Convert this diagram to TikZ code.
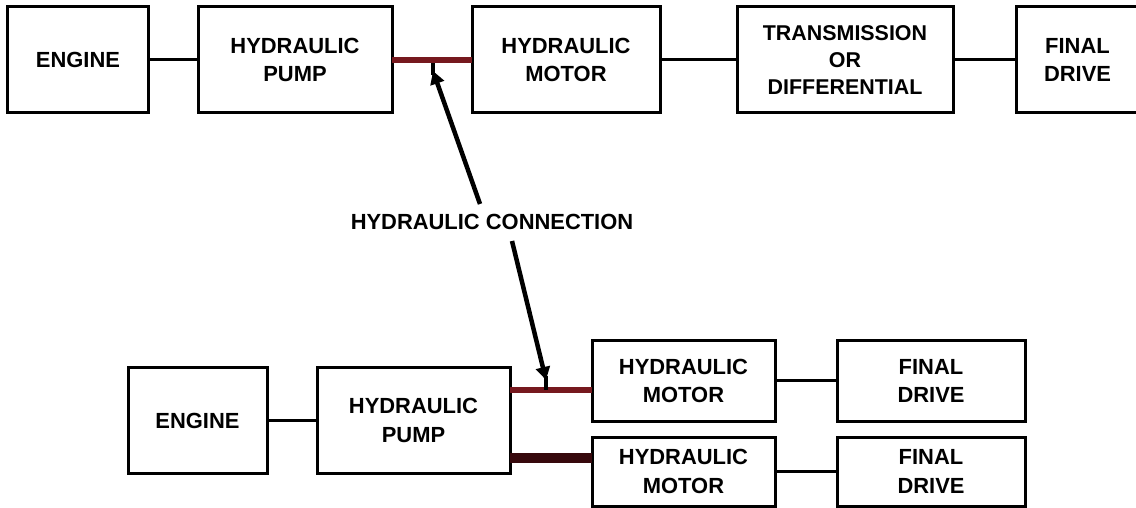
\documentclass[tikz,border=0pt]{standalone}
\usepackage{fontspec}
\setmainfont{Liberation Sans}
\usetikzlibrary{arrows.meta,calc}
\definecolor{hydred}{RGB}{118,24,30}
\definecolor{hyddark}{RGB}{55,8,12}
\tikzset{
  blk/.style={draw=black, line width=3bp, rectangle, inner sep=0pt, outer sep=0pt,
    align=center, font=\bfseries\fontsize{22}{29}\selectfont},
  link/.style={draw=black, line width=3bp},
  hline/.style={draw=hydred, line width=6bp},
  hthick/.style={draw=hyddark, line width=10bp},
  lbl/.style={font=\bfseries\fontsize{22}{29}\selectfont, inner sep=0pt},
  ptr/.style={draw=black, line width=4.5bp},
  tip/.style={-{Triangle[length=13bp,width=14bp]}}
}
\begin{document}
\begin{tikzpicture}[x=1bp,y=-1bp]
\useasboundingbox (0,0) rectangle (1136,508);
\begin{scope}
\clip (0,0) rectangle (1136,508);
% top row
\node[blk, minimum width=140bp, minimum height=106bp] (eng1) at (78,60) {ENGINE};
\node[blk, minimum width=194bp, minimum height=106bp] (pump1) at (295,60) {HYDRAULIC\\PUMP};
\node[blk, minimum width=188bp, minimum height=106bp] (mot1) at (566,60) {HYDRAULIC\\MOTOR};
\node[blk, minimum width=216bp, minimum height=106bp, font=\bfseries\fontsize{21.5}{27}\selectfont] (trans) at (845,60) {TRANSMISSION\\OR\\DIFFERENTIAL};
\node[blk, minimum width=123bp, minimum height=106bp] (fin1) at (1077.5,60) {FINAL\\DRIVE};
\draw[link] (eng1.east) -- (pump1.west);
\draw[hline] (pump1.east) -- (mot1.west);
\draw[link] (mot1.east) -- (trans.west);
\draw[link] (trans.east) -- (fin1.west);
% bottom row
\node[blk, minimum width=139bp, minimum height=105bp] (eng2) at (197.5,420.5) {ENGINE};
\node[blk, minimum width=193bp, minimum height=105bp] (pump2) at (413.5,420.5) {HYDRAULIC\\PUMP};
\node[blk, minimum width=183bp, minimum height=80bp] (mot2a) at (683.5,381) {HYDRAULIC\\MOTOR};
\node[blk, minimum width=188bp, minimum height=80bp] (fin2a) at (931,381) {FINAL\\DRIVE};
\node[blk, minimum width=183bp, minimum height=69bp] (mot2b) at (683.5,471.5) {HYDRAULIC\\MOTOR};
\node[blk, minimum width=188bp, minimum height=69bp] (fin2b) at (931,471.5) {FINAL\\DRIVE};
\draw[link] (eng2.east) -- (pump2.west);
\draw[link] (mot2a.east) -- (fin2a.west);
\draw[link] (mot2b.east) -- (fin2b.west);
\draw[hline] ([yshift=30.5bp]pump2.east) -- ([yshift=30.5bp]pump2.east -| mot2a.west);
\draw[hthick] ([yshift=-37.5bp]pump2.east) -- ([yshift=-37.5bp]pump2.east -| mot2b.west);
% hydraulic connection label and pointers
\node[lbl] (conn) at (492,222) {HYDRAULIC CONNECTION};
\coordinate (t1) at (433,63);
\coordinate (b1) at (546,390);
\coordinate (cs1) at (480,204);
\coordinate (cs2) at (512,241);
\draw[ptr, tip] (cs1) -- ($(t1)+(0,8)$);
\draw[ptr] ($(t1)+(0,12)$) -- (t1);
\draw[ptr, tip] (cs2) -- ($(b1)+(0,-10)$);
\draw[ptr] ($(b1)+(0,-14)$) -- (b1);
\end{scope}
\end{tikzpicture}
\end{document}
